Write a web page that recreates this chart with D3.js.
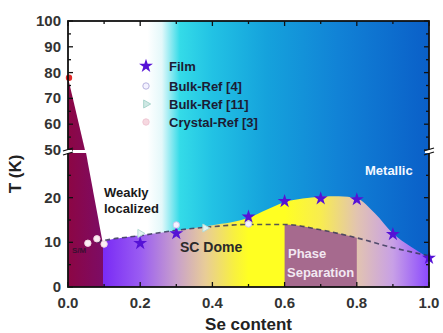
<!DOCTYPE html>
<html><head><meta charset="utf-8">
<script src="https://cdn.jsdelivr.net/npm/d3@7"></script>
<style>body{margin:0;background:#fff}svg{display:block}text{font-family:"Liberation Sans",Arial,sans-serif;font-weight:bold}</style>
</head><body>
<svg id="c" width="443" height="333"></svg>
<script>
// ---- data ----
const filmX = [0.2, 0.3, 0.5, 0.6, 0.7, 0.8, 0.9, 1.0];
const filmT = [9.8, 12.0, 15.7, 19.2, 19.8, 19.6, 11.8, 6.5];
const bulk4X = [0.3, 0.5];
const bulk4T = [13.9, 14.1];
const bulk11X = [0.2, 0.38];
const bulk11T = [12.0, 13.2];
const crystalX = [0.055, 0.08, 0.1];
const crystalT = [9.8, 10.8, 9.6];
const transX = [0.0];
const transT = [78];
// phase boundaries
const domeX = [0.097, 0.1, 0.15, 0.2, 0.3, 0.4, 0.5, 0.55, 0.6, 0.65, 0.7, 0.75, 0.8, 0.85, 0.9, 0.95, 1.0];
const domeT = [9.5, 10.2, 11.0, 11.6, 12.6, 13.8, 15.5, 17.3, 19.0, 19.8, 20.2, 20.3, 19.8, 16.5, 12.0, 9.0, 6.5];
const dashX = [0.08, 0.1, 0.2, 0.3, 0.4, 0.5, 0.6, 0.7, 0.8, 0.9, 1.0];
const dashT = [10.0, 10.4, 11.5, 12.7, 13.5, 14.0, 14.0, 12.8, 11.0, 8.8, 7.0];
const maroonUpX = [0, 0, 0.047];
const maroonUpT = [78, 50, 50];
const maroonLoX = [0, 0, 0.05, 0.097, 0.097];
const maroonLoT = [0, 30, 30, 9.5, 0];
const xTicks = [0, 0.2, 0.4, 0.6, 0.8, 1.0];
const yLoTicks = [0, 10, 20];
const yUpTicks = [50, 60, 70, 80, 90, 100];
const legendLabels = ["Film", "Bulk-Ref [4]", "Bulk-Ref [11]", "Crystal-Ref [3]"];

// ---- scales ----
const L = 68, R = 429, T = 21, B = 287;
const x = d3.scaleLinear([0, 1], [L, R]);
const yLo = d3.scaleLinear([0, 30], [B, 153]);
const yUp = d3.scaleLinear([50, 100], [150, T]);
const svg = d3.select("#c");
const defs = svg.append("defs");

function grad(id, stops) {
  const g = defs.append("linearGradient").attr("id", id)
    .attr("gradientUnits", "userSpaceOnUse").attr("x1", L).attr("x2", R).attr("y1", 0).attr("y2", 0);
  stops.forEach(s => g.append("stop").attr("offset", s[0]).attr("stop-color", s[1]));
}
grad("bg", [[0, "#ffffff"], [0.22, "#ffffff"], [0.26, "#e4f8fa"], [0.31, "#34dbe8"], [0.4, "#22c2e4"], [0.55, "#15a2dc"], [0.75, "#1182d6"], [1, "#0a5fc8"]]);
grad("low", [[0, "#7a2cf5"], [0.1, "#7a2cf5"], [0.2, "#9a5cf2"], [0.3, "#c8a0cc"], [0.38, "#e8cc98"], [0.46, "#f8f040"], [0.5, "#ffff22"], [0.6, "#ffff22"], [0.7, "#f8ec50"], [0.8, "#e2c4b0"], [0.9, "#c8a0e6"], [1, "#8a48ff"]]);
grad("mar", [[0, "#8c0644"], [0.1, "#7c0c66"]]);

// background
svg.append("rect").attr("x", L).attr("y", T).attr("width", R - L).attr("height", B - T).attr("fill", "url(#bg)");

// lower coloured region
const domePts = domeX.map((d, i) => [d, domeT[i]]);
svg.append("path")
  .attr("d", d3.area().x(d => x(d[0])).y0(yLo(0)).y1(d => yLo(d[1])).curve(d3.curveMonotoneX)(domePts))
  .attr("fill", "url(#low)");

// maroon pieces
const line = d3.line();
svg.append("path").attr("d", line(maroonUpX.map((d, i) => [x(d), yUp(maroonUpT[i])])) + "Z").attr("fill", "url(#mar)");
svg.append("path").attr("d", line(maroonLoX.map((d, i) => [x(d), yLo(maroonLoT[i])])) + "Z").attr("fill", "url(#mar)");

// phase separation box under dashed line
const dashPts = dashX.map((d, i) => [d, dashT[i]]);
defs.append("clipPath").attr("id", "ps").append("rect")
  .attr("x", x(0.6)).attr("y", T).attr("width", x(0.8) - x(0.6)).attr("height", B - T);
svg.append("path").attr("clip-path", "url(#ps)")
  .attr("d", d3.area().x(d => x(d[0])).y0(yLo(0)).y1(d => yLo(d[1])).curve(d3.curveMonotoneX)(dashPts))
  .attr("fill", "#a66a8e");

// dashed line
svg.append("path")
  .attr("d", d3.line().x(d => x(d[0])).y(d => yLo(d[1])).curve(d3.curveMonotoneX)(dashPts))
  .attr("fill", "none").attr("stroke", "#3a3a5a").attr("stroke-width", 1.6).attr("stroke-dasharray", "5,3.5").attr("opacity", 0.85);

// markers
const star = d3.symbol().type(d3.symbolStar).size(60);
const circ = d3.symbol().type(d3.symbolCircle).size(32);
const tri = d3.symbol().type(d3.symbolTriangle).size(28);
svg.selectAll(".film").data(filmX).join("path").attr("d", star)
  .attr("transform", (d, i) => `translate(${x(d)},${yLo(filmT[i])})`).attr("fill", "#5512d6");
svg.selectAll(".b4").data(bulk4X).join("path").attr("d", circ)
  .attr("transform", (d, i) => `translate(${x(d)},${yLo(bulk4T[i])})`).attr("fill", "#f4f2ff").attr("stroke", "#c8c4ec").attr("stroke-width", 1);
svg.selectAll(".b11").data(bulk11X).join("path").attr("d", tri)
  .attr("transform", (d, i) => `translate(${x(d)},${yLo(bulk11T[i])}) rotate(90)`).attr("fill", "#e4f4f2").attr("stroke", "#b4dcd6");
svg.selectAll(".cr").data(crystalX).join("path").attr("d", circ)
  .attr("transform", (d, i) => `translate(${x(d)},${yLo(crystalT[i])})`).attr("fill", "#fbeef4").attr("stroke", "#f2d4e0");
svg.selectAll(".tr").data(transX).join("circle")
  .attr("cx", d => x(d) + 1).attr("cy", (d, i) => yUp(transT[i])).attr("r", 3.2).attr("fill", "#e02a2a");

// frame
const ax = svg.append("g").attr("stroke", "#111").attr("fill", "none");
ax.append("rect").attr("x", L).attr("y", T).attr("width", R - L).attr("height", B - T).attr("stroke-width", 1.8);
d3.range(0, 1.001, 0.1).forEach((v, i) => {
  const len = i % 2 === 0 ? 5 : 3;
  ax.append("line").attr("x1", x(v)).attr("x2", x(v)).attr("y1", B).attr("y2", B - len).attr("stroke-width", 1.3);
  ax.append("line").attr("x1", x(v)).attr("x2", x(v)).attr("y1", T).attr("y2", T + len).attr("stroke-width", 1.3);
});
function yt(yy, len) {
  ax.append("line").attr("x1", L).attr("x2", L + len).attr("y1", yy).attr("y2", yy).attr("stroke-width", 1.3);
  ax.append("line").attr("x1", R).attr("x2", R - len).attr("y1", yy).attr("y2", yy).attr("stroke-width", 1.3);
}
d3.range(0, 26, 5).forEach(v => yt(yLo(v), v % 10 === 0 ? 5 : 3));
d3.range(50, 101, 5).forEach(v => yt(yUp(v), v % 10 === 0 ? 5 : 3));

// axis breaks
[L, R].forEach(xx => {
  svg.append("rect").attr("x", xx - 4).attr("y", 150).attr("width", 8).attr("height", 3).attr("fill", "#fff");
  svg.append("line").attr("x1", xx - 5).attr("x2", xx + 5).attr("y1", 151).attr("y2", 148).attr("stroke", "#111").attr("stroke-width", 1.3);
  svg.append("line").attr("x1", xx - 5).attr("x2", xx + 5).attr("y1", 155).attr("y2", 152).attr("stroke", "#111").attr("stroke-width", 1.3);
});

// tick labels
const tl = svg.append("g").attr("fill", "#333").style("font-size", "15px");
xTicks.forEach(v => tl.append("text").attr("x", x(v)).attr("y", 308).attr("text-anchor", "middle").text(d3.format(".1f")(v)));
yLoTicks.forEach(v => tl.append("text").attr("x", 61).attr("y", yLo(v) + 5).attr("text-anchor", "end").text(v));
yUpTicks.forEach(v => tl.append("text").attr("x", 61).attr("y", yUp(v) + 5).attr("text-anchor", "end").text(v));

// axis titles
svg.append("text").attr("x", (L + R) / 2).attr("y", 330).attr("text-anchor", "middle").attr("fill", "#222").style("font-size", "17px").text("Se content");
svg.append("text").attr("transform", "translate(21,174) rotate(-90)").attr("text-anchor", "middle").attr("fill", "#222").style("font-size", "17px").text("T (K)");

// legend
const lg = svg.append("g").style("font-size", "13px").attr("fill", "#1c1c34");
const ly = [66, 86, 104, 122];
lg.append("path").attr("d", star).attr("transform", `translate(146,${ly[0]})`).attr("fill", "#5512d6");
lg.append("path").attr("d", circ).attr("transform", `translate(146,${ly[1]})`).attr("fill", "#f4f2ff").attr("stroke", "#b8b4e0");
lg.append("path").attr("d", tri).attr("transform", `translate(146,${ly[2]}) rotate(90)`).attr("fill", "#cfe8e4").attr("stroke", "#a8d4cc");
lg.append("path").attr("d", circ).attr("transform", `translate(146,${ly[3]})`).attr("fill", "#f6d8e0").attr("stroke", "#f0c8d4");
legendLabels.forEach((t, i) => lg.append("text").attr("x", 169).attr("y", ly[i] + 4.5).text(t));

// region labels
const rl = svg.append("g").style("font-size", "13px");
rl.append("text").attr("x", 104).attr("y", 197).attr("fill", "#1a1a1a").text("Weakly");
rl.append("text").attr("x", 104).attr("y", 213).attr("fill", "#1a1a1a").text("localized");
rl.append("text").attr("x", 180).attr("y", 252).attr("fill", "#2a2a2a").style("font-size", "14px").text("SC Dome");
rl.append("text").attr("x", 365).attr("y", 175).attr("fill", "#f4f8ff").text("Metallic");
rl.append("text").attr("x", 288).attr("y", 258).attr("fill", "#f2e8f2").text("Phase");
rl.append("text").attr("x", 287).attr("y", 277).attr("fill", "#f2e8f2").text("Separation");
rl.append("text").attr("x", 72).attr("y", 253).attr("fill", "#3a1030").style("font-size", "8px").text("S/M");
</script>
</body></html>
